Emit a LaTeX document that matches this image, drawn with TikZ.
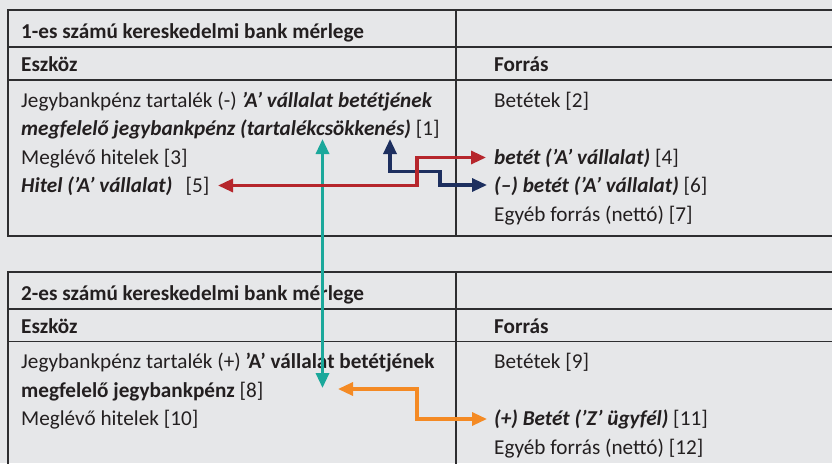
\documentclass[tikz,border=0pt]{standalone}
\usepackage{fontspec}
\setmainfont{Carlito}
\usetikzlibrary{arrows.meta}
\definecolor{bg}{HTML}{E6E7E9}
\definecolor{ink}{HTML}{231F20}
\definecolor{rule}{HTML}{2E2E30}
\definecolor{cteal}{HTML}{1BA89B}
\definecolor{cnavy}{HTML}{1D2F5F}
\definecolor{cred}{HTML}{B6262C}
\definecolor{corange}{HTML}{F48A24}
\newcommand{\txtsize}{\fontsize{21.2}{25}\selectfont}
\tikzset{
  txt/.style={anchor=base west,inner sep=0pt,text=ink,font=\txtsize},
  hdr/.style={txt,font=\txtsize\bfseries},
  thickrule/.style={draw=rule,line width=2.6pt},
  thinrule/.style={draw=rule,line width=1.2pt},
  flow/.style={line width=3.2pt,{Triangle[length=15pt,width=13pt]}-{Triangle[length=15pt,width=13pt]}},
}
\begin{document}
\begin{tikzpicture}[x=1pt,y=-1pt]
\useasboundingbox (0,0) rectangle (832,463);
\fill[bg] (0,0) rectangle (832,463);
% ---------- table 1 ----------
\draw[thickrule] (840,10) -- (8,10) -- (8,236) -- (840,236);
\draw[thickrule] (8,47) -- (840,47);
\draw[thinrule] (8,80) -- (840,80);
\draw[thinrule] (456,10) -- (456,236);
\node[hdr] (h1) at (21,38) {1-es számú kereskedelmi bank mérlege};
\node[hdr] (e1) at (21,71) {Eszköz};
\node[hdr] (f1) at (494,71) {Forrás};
\node[txt] (a1) at (21,107) {Jegybankpénz tartalék (-) \textbf{\textit{’A’ vállalat betétjének}}};
\node[txt] (a2) at (21,135.5) {\textbf{\textit{megfelelő jegybankpénz (tartalékcsökkenés)}} [1]};
\node[txt] (a3) at (21,164) {Meglévő hitelek [3]};
\node[txt] (a4) at (21,192.5) {\textbf{\textit{Hitel (’A’ vállalat)}}\hspace{0.4em} [5]};
\node[txt] (b1) at (494,107) {Betétek [2]};
\node[txt] (b2) at (494,164) {\textbf{\textit{betét (’A’ vállalat)}} [4]};
\node[txt] (b3) at (494,192.5) {\textbf{\textit{(–) betét (’A’ vállalat)}} [6]};
\node[txt] (b4) at (494,221) {Egyéb forrás (nettó) [7]};
% ---------- table 2 ----------
\draw[thickrule] (840,272) -- (8,272) -- (8,470);
\draw[thickrule] (8,309) -- (840,309);
\draw[thinrule] (8,341.5) -- (840,341.5);
\draw[thinrule] (456,272) -- (456,470);
\node[hdr] (h2) at (21,300) {2-es számú kereskedelmi bank mérlege};
\node[hdr] (e2) at (21,333) {Eszköz};
\node[hdr] (f2) at (494,333) {Forrás};
\node[txt] (c1) at (21,368.5) {Jegybankpénz tartalék (+) \textbf{’A’ vállalat betétjének}};
\node[txt] (c2) at (21,397) {\textbf{megfelelő jegybankpénz} [8]};
\node[txt] (c3) at (21,425.5) {Meglévő hitelek [10]};
\node[txt] (d1) at (494,368.5) {Betétek [9]};
\node[txt] (d2) at (494,425.5) {\textbf{\textit{(+) Betét (’Z’ ügyfél)}} [11]};
\node[txt] (d3) at (494,454) {Egyéb forrás (nettó) [12]};
% ---------- connectors ----------
\coordinate (t1) at (322.5,139);
\coordinate (t2) at (322.5,388);
\coordinate (n1) at (390,139);
\coordinate (nb) at (440,171.5);
\coordinate (n2) at (487,185);
\coordinate (r1) at (218,185.5);
\coordinate (rb) at (417,157.5);
\coordinate (r2) at (486,157.5);
\coordinate (o1) at (338,389);
\coordinate (ob) at (417,419);
\coordinate (o2) at (487,419);
\draw[flow,cteal] (t1) -- (t2);
\draw[flow,cnavy] (n1) |- (nb) |- (n2);
\draw[flow,cred] (r1) -| (rb) -- (r2);
\draw[flow,corange] (o1) -| (ob) -- (o2);
\end{tikzpicture}
\end{document}
